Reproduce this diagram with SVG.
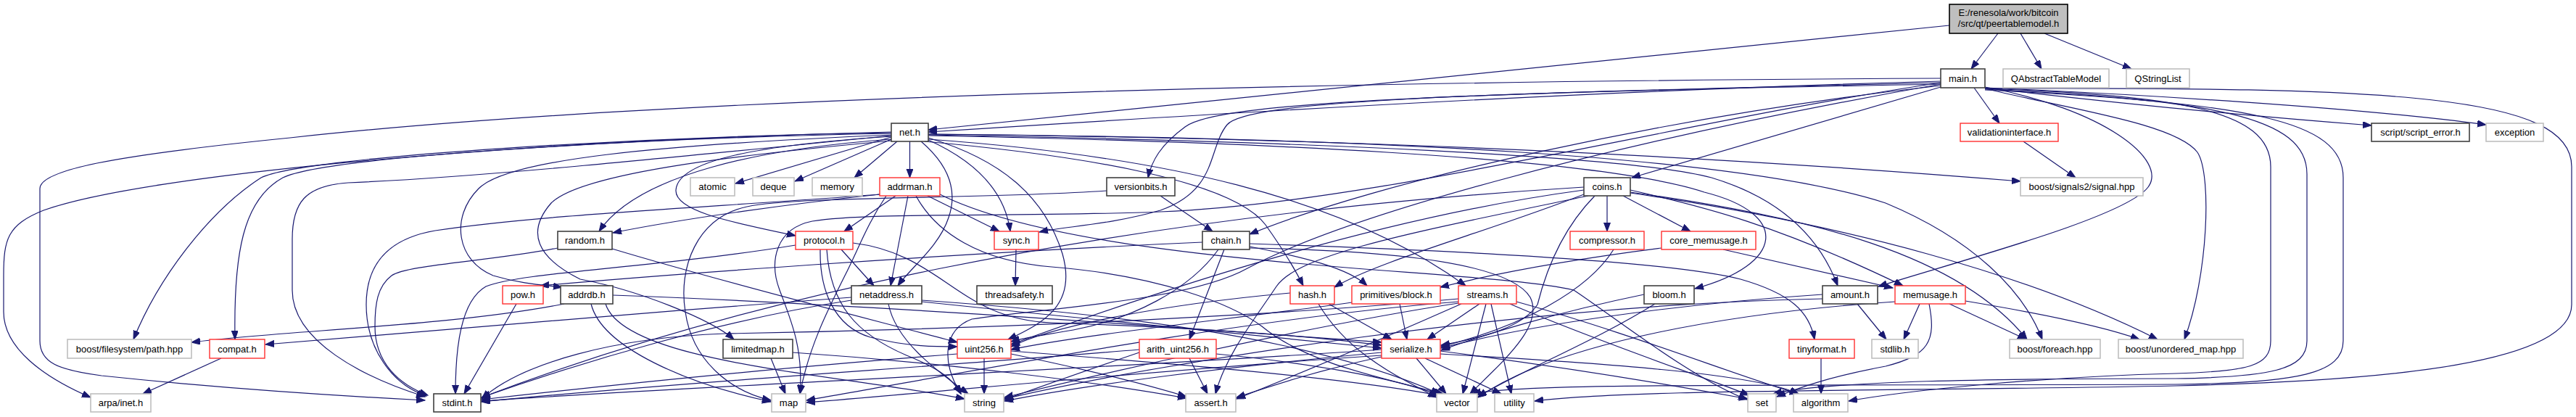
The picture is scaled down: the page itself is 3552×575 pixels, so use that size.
<svg xmlns="http://www.w3.org/2000/svg" width="3552" height="575" viewBox="0 0 3552 575">
<style>
text{font-family:"Liberation Sans",Arial,Helvetica,sans-serif;font-size:13px;fill:#000;text-anchor:middle}
.b rect{fill:#fff;stroke:#404040;stroke-width:1.6}
.r rect{fill:#fff;stroke:#ff3030;stroke-width:1.4}
.g rect{fill:#fff;stroke:#bfbfbf;stroke-width:1.6}
#edges path{fill:none;stroke:#191970;stroke-width:1.2;marker-end:url(#a)}
</style>
<defs>
<marker id="a" markerWidth="14" markerHeight="11" refX="12" refY="4.5" orient="auto" markerUnits="userSpaceOnUse"><path d="M0,0 L12,4.5 L0,9 z" fill="#191970" stroke="#191970" stroke-width="1"/></marker>
</defs>
<rect width="3552" height="575" fill="#fff"/>
<g id="edges">
<path d="M2755,46 L2718,95"/>
<path d="M2786,46 L2815,95"/>
<path d="M2819,46 L2939,95"/>
<path d="M2688,35 L1280,179"/>
<path d="M2676,112 C2200,125 1700,155 1280,182"/>
<path d="M2676,114 C2000,130 1680,140 1634,175 C1600,200 1588,222 1583,245"/>
<path d="M2676,116 C2000,128 1720,140 1692,172 C1665,205 1680,262 1600,290 C1530,310 1470,312 1433,320"/>
<path d="M2676,118 C2300,160 1900,250 1723,323"/>
<path d="M2676,120 L2250,245"/>
<path d="M2737,120 C2900,150 2990,220 2962,258 C2930,300 2700,360 2590,395"/>
<path d="M2722,121 L2757,170"/>
<path d="M2737,121 C2900,140 3100,160 3270,173"/>
<path d="M2737,121 C2950,130 3250,148 3428,172"/>
<path d="M2737,122 C2850,150 3000,170 3030,210 C3050,240 3045,380 3012,468"/>
<path d="M2737,122 C3000,132 3131,150 3131,230 L3131,470 C3131,505 3100,512 3000,515 C2800,520 2620,540 2549,553"/>
<path d="M2737,123 C3050,138 3181,160 3181,240 L3181,470 C3181,510 3130,520 3000,522 C2750,522 2520,525 2445,543"/>
<path d="M2737,124 C3100,142 3231,165 3231,245 L3231,470 C3231,515 3170,528 3000,530 C2400,532 2100,528 2030,543"/>
<path d="M2737,122 C3300,120 3546,130 3546,230 L3546,420 C3546,500 3300,525 3000,532 C2600,540 2250,536 2116,553"/>
<path d="M2676,114 C2300,170 1900,280 1600,292 C1400,300 1200,292 1120,305 C1070,315 1060,360 1075,400 C1090,440 1108,480 1103,543"/>
<path d="M2676,108 C1800,112 900,135 400,190 C150,215 55,235 55,260 L55,470 C55,500 80,510 140,518 C300,535 450,545 586,552"/>
<path d="M2676,116 C2200,200 1850,300 1720,370 C1640,415 1440,425 1340,440 C1300,455 1298,500 1325,543"/>
<path d="M1229,189 L1014,253"/>
<path d="M1229,192 L1096,250"/>
<path d="M1237,195 L1178,245"/>
<path d="M1254.5,195 L1254.5,245"/>
<path d="M1270,195 C1305,225 1322,260 1308,300 C1295,340 1255,370 1238,394"/>
<path d="M1280,193 C1340,220 1385,260 1393,319"/>
<path d="M1280,190 C1380,220 1440,270 1465,350 C1485,420 1440,445 1390,468"/>
<path d="M1229,192 C1050,205 880,240 826,319"/>
<path d="M1229,188 C1050,200 935,220 932,262 C930,290 1000,305 1097,325"/>
<path d="M1229,194 C1000,215 800,240 760,280 C725,320 740,355 800,385 C880,400 980,440 1012,468"/>
<path d="M1229,186 C900,200 700,220 660,260 C620,300 630,360 680,380 C720,392 750,393 775,396"/>
<path d="M1229,184 C900,190 450,215 390,245 C335,275 322,350 324,468"/>
<path d="M1229,183 C900,188 420,215 360,245 C290,290 220,380 184,468"/>
<path d="M1229,182 C700,195 200,240 60,290 C10,310 5,330 5,380 L5,430 C5,480 60,520 125,548"/>
<path d="M1229,187 C900,220 650,245 480,252 C420,256 403,280 403,330 L403,400 C403,470 500,520 586,547"/>
<path d="M1280,192 C1600,215 1850,270 2021,394"/>
<path d="M1275,195 C1500,215 1700,250 1745,310 C1770,345 1785,370 1797,394"/>
<path d="M1280,187 C1700,195 2200,215 2350,265 C2470,295 2460,365 2337,398"/>
<path d="M1280,186 C1800,195 2250,215 2360,245 C2460,275 2510,330 2534,394"/>
<path d="M1280,185 C1900,190 2400,215 2600,280 C2720,330 2790,400 2816,468"/>
<path d="M1280,185 C1800,190 2300,210 2786,250"/>
<path d="M1213,268 C1100,280 950,300 845,321"/>
<path d="M1235,270 L1164,319"/>
<path d="M1252,270 L1228,394"/>
<path d="M1279,270 L1378,319"/>
<path d="M1296,268 C1500,370 2050,370 2170,400 C2230,440 2330,520 2409,551"/>
<path d="M1222,270 C1195,310 1183,345 1165,380 C1140,430 1115,480 1103,543"/>
<path d="M1213,268 C1000,285 750,295 600,318 C530,330 505,370 505,420 C505,480 540,530 588,546"/>
<path d="M1263,270 C1290,320 1350,360 1450,368 C1600,380 1700,420 1740,450 C1800,500 1900,520 1990,543"/>
<path d="M1160,344 L1205,394"/>
<path d="M1131,344 C1130,400 1150,450 1200,465 C1250,478 1290,478 1320,478"/>
<path d="M1140,344 C1145,420 1180,460 1250,490 C1300,510 1315,525 1325,543"/>
<path d="M1176,335 C1300,350 1320,440 1450,445 C1650,452 1800,462 1905,476"/>
<path d="M1097,338 C900,370 720,375 670,395 C635,415 628,480 628,543"/>
<path d="M844,343 C1000,390 1200,440 1320,472"/>
<path d="M769,342 C680,360 560,365 540,380 C520,395 517,420 517,450 C517,500 550,530 590,545"/>
<path d="M1174,410 C900,430 600,455 366,475"/>
<path d="M1271,416 C1500,440 1750,465 1905,480"/>
<path d="M1225,419 C1235,470 1290,510 1335,543"/>
<path d="M1174,414 C1000,440 800,500 664,548"/>
<path d="M1271,414 C1500,430 1800,460 1985,543"/>
<path d="M1401,344 L1400,394"/>
<path d="M1688,344 L1640,468"/>
<path d="M1680,344 C1640,400 1560,440 1480,455 C1440,462 1410,466 1394,471"/>
<path d="M1658,334 C1300,350 900,380 745,394"/>
<path d="M1723,340 C1800,355 1860,370 1885,394"/>
<path d="M1723,336 C2000,345 2300,360 2400,385 C2470,405 2495,430 2502,468"/>
<path d="M1723,342 C1900,345 2080,360 2110,410 C2130,450 2070,500 2027,543"/>
<path d="M1600,270 L1672,319"/>
<path d="M1526,263 C1350,275 1100,270 1030,285 C960,300 935,370 945,430 C955,500 1010,540 1063,552"/>
<path d="M2216,270 L2216,319"/>
<path d="M2238,270 L2331,319"/>
<path d="M2184,268 C2050,320 1900,360 1840,396"/>
<path d="M2248,262 C2350,285 2450,310 2624,394"/>
<path d="M2199,270 C2150,320 2130,380 2120,420 C2100,450 2050,465 1987,476"/>
<path d="M2184,262 C1900,300 1600,400 1394,475"/>
<path d="M2190,270 C1950,320 1790,350 1760,395 C1730,440 1690,490 1676,543"/>
<path d="M2184,258 C1500,300 1000,420 664,548"/>
<path d="M2248,265 C2500,300 2700,350 2795,468"/>
<path d="M2248,266 C2550,310 2800,380 2975,468"/>
<path d="M2225,344 C2190,400 2100,450 1987,478"/>
<path d="M2291,342 C2150,360 2050,380 1986,396"/>
<path d="M2376,344 L2610,397"/>
<path d="M2647,419 L2625,468"/>
<path d="M2688,419 L2794,468"/>
<path d="M2710,415 C2800,430 2900,450 2950,468"/>
<path d="M2660,419 C2670,470 2660,490 2600,505 C2520,520 2480,535 2450,547"/>
<path d="M2613,416 C2400,430 2150,470 2038,548"/>
<path d="M2561,419 L2601,468"/>
<path d="M2513,406 C2300,420 2100,450 1987,480"/>
<path d="M2513,412 C2100,420 1600,500 1385,550"/>
<path d="M2267,406 C2150,430 2050,460 1987,483"/>
<path d="M2282,419 C2200,470 2100,510 2038,547"/>
<path d="M1832,419 L1919,468"/>
<path d="M1818,419 C1860,490 1930,520 1981,548"/>
<path d="M1779,404 C1600,420 1450,450 1394,478"/>
<path d="M1930,419 L1940,468"/>
<path d="M1864,417 C1700,440 1500,460 1394,482"/>
<path d="M2040,419 L1968,468"/>
<path d="M2049,419 L2017,543"/>
<path d="M2056,419 L2084,543"/>
<path d="M2082,419 C2200,470 2350,520 2412,545"/>
<path d="M2091,416 C2250,460 2400,520 2480,543"/>
<path d="M2011,416 C1700,440 1300,520 1112,552"/>
<path d="M2011,412 C1700,440 1300,455 1000,460 C850,465 720,500 664,550"/>
<path d="M2011,418 C1800,450 1500,520 1385,548"/>
<path d="M2015,419 C1900,470 1780,520 1705,550"/>
<path d="M1953,494 L1994,543"/>
<path d="M1965,494 L2070,543"/>
<path d="M1986,484 C2150,505 2300,530 2410,550"/>
<path d="M1986,488 C2200,500 2420,515 2480,543"/>
<path d="M1905,486 C1700,505 1500,530 1385,553"/>
<path d="M1905,490 C1600,510 1300,540 1112,555"/>
<path d="M1905,482 C1500,510 1000,530 664,553"/>
<path d="M1905,492 C1820,510 1760,530 1705,548"/>
<path d="M1357,494 L1357,543"/>
<path d="M1394,488 C1500,510 1580,530 1636,547"/>
<path d="M1320,488 C1100,505 850,530 664,551"/>
<path d="M1394,484 C1600,500 1850,520 1983,545"/>
<path d="M1640,494 L1665,543"/>
<path d="M1571,486 C1500,510 1430,535 1385,551"/>
<path d="M1571,482 C1300,505 900,530 664,554"/>
<path d="M1677,488 C1800,500 1920,520 1985,545"/>
<path d="M1063,494 L1083,543"/>
<path d="M1093,486 C1300,500 1500,525 1636,549"/>
<path d="M778,419 C620,450 400,455 264,472"/>
<path d="M815,419 C830,480 950,530 1063,554"/>
<path d="M835,419 C860,500 1150,515 1330,550"/>
<path d="M845,407 C1200,420 1600,450 1905,472"/>
<path d="M712,419 L640,543"/>
<path d="M305,494 L197,543"/>
<path d="M2511,494 L2511,543"/>
<path d="M2790,195 L2862,245"/>
</g>
<g id="node-root"><rect x="2688" y="6" width="163" height="40" fill="#bfbfbf" stroke="#000" stroke-width="1.6"/><text x="2769.5" y="22">E:/renesola/work/bitcoin</text><text x="2769.5" y="37">/src/qt/peertablemodel.h</text></g>
<g id="node-main" class="b"><rect x="2676" y="95" width="61" height="26"/><text x="2706.5" y="112.5">main.h</text></g>
<g id="node-qabstracttablemodel" class="g"><rect x="2762" y="95" width="146" height="26"/><text x="2835" y="112.5">QAbstractTableModel</text></g>
<g id="node-qstringlist" class="g"><rect x="2932" y="95" width="87" height="26"/><text x="2975.5" y="112.5">QStringList</text></g>
<g id="node-net" class="b"><rect x="1229" y="170" width="51" height="25"/><text x="1254.5" y="187">net.h</text></g>
<g id="node-validationinterface" class="r"><rect x="2703" y="170" width="135" height="25"/><text x="2770.5" y="187">validationinterface.h</text></g>
<g id="node-script_error" class="b"><rect x="3270" y="170" width="135" height="25"/><text x="3337.5" y="187">script/script_error.h</text></g>
<g id="node-exception" class="g"><rect x="3428" y="170" width="79" height="25"/><text x="3467.5" y="187">exception</text></g>
<g id="node-atomic" class="g"><rect x="952" y="245" width="61" height="25"/><text x="982.5" y="262">atomic</text></g>
<g id="node-deque" class="g"><rect x="1038" y="245" width="57" height="25"/><text x="1066.5" y="262">deque</text></g>
<g id="node-memory" class="g"><rect x="1120" y="245" width="69" height="25"/><text x="1154.5" y="262">memory</text></g>
<g id="node-addrman" class="r"><rect x="1213" y="245" width="83" height="25"/><text x="1254.5" y="262">addrman.h</text></g>
<g id="node-versionbits" class="b"><rect x="1526" y="245" width="94" height="25"/><text x="1573" y="262">versionbits.h</text></g>
<g id="node-coins" class="b"><rect x="2184" y="245" width="64" height="25"/><text x="2216" y="262">coins.h</text></g>
<g id="node-signal" class="g"><rect x="2786" y="245" width="169" height="25"/><text x="2870.5" y="262">boost/signals2/signal.hpp</text></g>
<g id="node-random" class="b"><rect x="769" y="319" width="75" height="25"/><text x="806.5" y="336">random.h</text></g>
<g id="node-protocol" class="r"><rect x="1097" y="319" width="79" height="25"/><text x="1136.5" y="336">protocol.h</text></g>
<g id="node-sync" class="r"><rect x="1371" y="319" width="61" height="25"/><text x="1401.5" y="336">sync.h</text></g>
<g id="node-chain" class="b"><rect x="1658" y="319" width="65" height="25"/><text x="1690.5" y="336">chain.h</text></g>
<g id="node-compressor" class="r"><rect x="2165" y="319" width="102" height="25"/><text x="2216" y="336">compressor.h</text></g>
<g id="node-core_memusage" class="r"><rect x="2291" y="319" width="130" height="25"/><text x="2356" y="336">core_memusage.h</text></g>
<g id="node-pow" class="r"><rect x="693" y="394" width="56" height="25"/><text x="721" y="411">pow.h</text></g>
<g id="node-addrdb" class="b"><rect x="773" y="394" width="72" height="25"/><text x="809" y="411">addrdb.h</text></g>
<g id="node-netaddress" class="b"><rect x="1174" y="394" width="97" height="25"/><text x="1222.5" y="411">netaddress.h</text></g>
<g id="node-threadsafety" class="b"><rect x="1347" y="394" width="104" height="25"/><text x="1399" y="411">threadsafety.h</text></g>
<g id="node-hash" class="r"><rect x="1779" y="394" width="61" height="25"/><text x="1809.5" y="411">hash.h</text></g>
<g id="node-block" class="r"><rect x="1864" y="394" width="122" height="25"/><text x="1925" y="411">primitives/block.h</text></g>
<g id="node-streams" class="r"><rect x="2011" y="394" width="80" height="25"/><text x="2051" y="411">streams.h</text></g>
<g id="node-bloom" class="b"><rect x="2267" y="394" width="69" height="25"/><text x="2301.5" y="411">bloom.h</text></g>
<g id="node-amount" class="b"><rect x="2513" y="394" width="76" height="25"/><text x="2551" y="411">amount.h</text></g>
<g id="node-memusage" class="r"><rect x="2613" y="394" width="97" height="25"/><text x="2661.5" y="411">memusage.h</text></g>
<g id="node-filesystem" class="g"><rect x="93" y="468" width="171" height="26"/><text x="178.5" y="485.5">boost/filesystem/path.hpp</text></g>
<g id="node-compat" class="r"><rect x="289" y="468" width="76" height="26"/><text x="327" y="485.5">compat.h</text></g>
<g id="node-limitedmap" class="b"><rect x="997" y="468" width="96" height="26"/><text x="1045" y="485.5">limitedmap.h</text></g>
<g id="node-uint256" class="r"><rect x="1320" y="468" width="74" height="26"/><text x="1357" y="485.5">uint256.h</text></g>
<g id="node-arith_uint256" class="r"><rect x="1571" y="468" width="106" height="26"/><text x="1624" y="485.5">arith_uint256.h</text></g>
<g id="node-serialize" class="r"><rect x="1905" y="468" width="81" height="26"/><text x="1945.5" y="485.5">serialize.h</text></g>
<g id="node-tinyformat" class="r"><rect x="2467" y="468" width="90" height="26"/><text x="2512" y="485.5">tinyformat.h</text></g>
<g id="node-stdlib" class="g"><rect x="2581" y="468" width="64" height="26"/><text x="2613" y="485.5">stdlib.h</text></g>
<g id="node-foreach" class="g"><rect x="2771" y="468" width="125" height="26"/><text x="2833.5" y="485.5">boost/foreach.hpp</text></g>
<g id="node-unordered_map" class="g"><rect x="2921" y="468" width="172" height="26"/><text x="3007" y="485.5">boost/unordered_map.hpp</text></g>
<g id="node-arpa_inet" class="g"><rect x="125" y="543" width="83" height="25"/><text x="166.5" y="560">arpa/inet.h</text></g>
<g id="node-stdint" class="b"><rect x="598" y="543" width="65" height="25"/><text x="630.5" y="560">stdint.h</text></g>
<g id="node-map" class="g"><rect x="1064" y="543" width="47" height="25"/><text x="1087.5" y="560">map</text></g>
<g id="node-string" class="g"><rect x="1330" y="543" width="54" height="25"/><text x="1357" y="560">string</text></g>
<g id="node-assert" class="g"><rect x="1635" y="543" width="69" height="25"/><text x="1669.5" y="560">assert.h</text></g>
<g id="node-vector" class="g"><rect x="1981" y="543" width="56" height="25"/><text x="2009" y="560">vector</text></g>
<g id="node-utility" class="g"><rect x="2061" y="543" width="54" height="25"/><text x="2088" y="560">utility</text></g>
<g id="node-set" class="g"><rect x="2410" y="543" width="39" height="25"/><text x="2429.5" y="560">set</text></g>
<g id="node-algorithm" class="g"><rect x="2473" y="543" width="75" height="25"/><text x="2510.5" y="560">algorithm</text></g>
</svg>
